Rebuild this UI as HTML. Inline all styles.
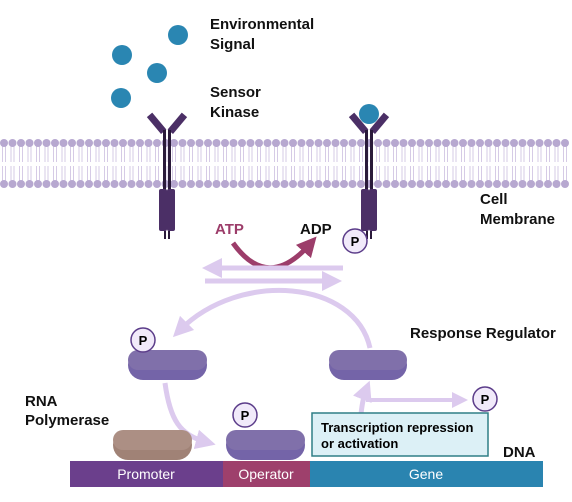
<!DOCTYPE html>
<html><head><meta charset="utf-8"><style>
html,body{margin:0;padding:0;background:#fff;}
svg{display:block;font-family:"Liberation Sans",sans-serif;}
.b{font-weight:bold;font-size:15px;fill:#111;}
</style></head><body>
<svg width="572" height="502" viewBox="0 0 572 502">
<defs>
<marker id="ah" markerWidth="4" markerHeight="4" refX="2" refY="2" orient="auto" markerUnits="strokeWidth"><path d="M0,0 L4,2 L0,4 z" fill="#dccaee"/></marker>
<marker id="ahm" markerWidth="4" markerHeight="4" refX="2" refY="2" orient="auto" markerUnits="strokeWidth"><path d="M0,0 L4,2 L0,4 z" fill="#9c3d6a"/></marker>
</defs>
<g id="mem"></g>
<g fill="#2a86b2">
<circle cx="178" cy="35" r="10"/><circle cx="122" cy="55" r="10"/><circle cx="157" cy="73" r="10"/><circle cx="121" cy="98" r="10"/>
</g>
<text class="b" x="210" y="29">Environmental</text>
<text class="b" x="210" y="49">Signal</text>
<text class="b" x="210" y="97">Sensor</text>
<text class="b" x="210" y="117">Kinase</text>
<g id="rec1" transform="translate(167,0)"></g>
<g id="rec2" transform="translate(369,0)"></g>
<circle cx="369" cy="114" r="10" fill="#2a86b2"/>
<text class="b" x="480" y="204">Cell</text>
<text class="b" x="480" y="224">Membrane</text>
<text x="215" y="234" font-size="15" font-weight="bold" fill="#9c3d6a">ATP</text>
<text class="b" x="300" y="234">ADP</text>
<path d="M233,243 Q268,292 310,244" fill="none" stroke="#9c3d6a" stroke-width="5" marker-end="url(#ahm)"/>
<g><circle cx="355" cy="241" r="12" fill="#f1eafa" stroke="#5c3d8a" stroke-width="1.5"/><text x="355" y="246" text-anchor="middle" font-size="13" font-weight="bold">P</text></g>
<line x1="343" y1="268" x2="212" y2="268" stroke="#dccaee" stroke-width="5" marker-end="url(#ah)"/>
<line x1="205" y1="281" x2="332" y2="281" stroke="#dccaee" stroke-width="5" marker-end="url(#ah)"/>
<path d="M370,348 C355,280 240,270 180,330" fill="none" stroke="#dccaee" stroke-width="5" marker-end="url(#ah)"/>
<path d="M165,383 C170,420 180,435 206,442" fill="none" stroke="#dccaee" stroke-width="5" marker-end="url(#ah)"/>
<path d="M361,414 C362,405 364,395 366,390" fill="none" stroke="#dccaee" stroke-width="5" marker-end="url(#ah)"/>
<line x1="366" y1="400" x2="460" y2="400" stroke="#dccaee" stroke-width="4" marker-end="url(#ah)"/>
<g><rect x="128" y="350" width="79" height="30" rx="15" fill="#7464a8"/><rect x="128" y="350" width="79" height="20" rx="10" fill="#8070aa"/></g>
<g><circle cx="143" cy="340" r="12" fill="#f1eafa" stroke="#5c3d8a" stroke-width="1.5"/><text x="143" y="345" text-anchor="middle" font-size="13" font-weight="bold">P</text></g>
<g><rect x="329" y="350" width="78" height="30" rx="15" fill="#7464a8"/><rect x="329" y="350" width="78" height="20" rx="10" fill="#8070aa"/></g>
<text class="b" x="410" y="338">Response Regulator</text>
<text class="b" x="25" y="406">RNA</text>
<text class="b" x="25" y="425">Polymerase</text>
<g><rect x="113" y="430" width="79" height="30" rx="15" fill="#a08276"/><rect x="113" y="430" width="79" height="20" rx="10" fill="#ac8f84"/></g>
<g><rect x="226" y="430" width="79" height="30" rx="15" fill="#7464a8"/><rect x="226" y="430" width="79" height="20" rx="10" fill="#8070aa"/></g>
<g><circle cx="245" cy="415" r="12" fill="#f1eafa" stroke="#5c3d8a" stroke-width="1.5"/><text x="245" y="420" text-anchor="middle" font-size="13" font-weight="bold">P</text></g>
<g><circle cx="485" cy="399" r="12" fill="#f1eafa" stroke="#5c3d8a" stroke-width="1.5"/><text x="485" y="404" text-anchor="middle" font-size="13" font-weight="bold">P</text></g>
<g><rect x="312" y="413" width="176" height="43" fill="#dcf0f6" stroke="#2e7f86" stroke-width="1.5"/>
<text x="321" y="432" font-size="13" font-weight="bold">Transcription repression</text><text x="321" y="448" font-size="13" font-weight="bold">or activation</text></g>
<text class="b" x="503" y="457">DNA</text>
<g font-size="14" fill="#fff" text-anchor="middle">
<rect x="70" y="461" width="153" height="26" fill="#6b3f8c"/>
<rect x="223" y="461" width="87" height="26" fill="#9e406c"/>
<rect x="310" y="461" width="233" height="26" fill="#2a84b0"/>
<text x="146" y="479">Promoter</text><text x="266" y="479">Operator</text><text x="426" y="479">Gene</text>
</g>
<script>
var NS="http://www.w3.org/2000/svg";
var mem=document.getElementById('mem');
function mk(t,a,p){var e=document.createElementNS(NS,t);for(var k in a)e.setAttribute(k,a[k]);p.appendChild(e);return e;}
for(var x=4;x<572;x+=8.5){
mk('line',{x1:x-1.5,y1:146,x2:x-1.5,y2:162,stroke:'#d6cbe6','stroke-width':1},mem);
mk('line',{x1:x+1.5,y1:146,x2:x+1.5,y2:162,stroke:'#d6cbe6','stroke-width':1},mem);
mk('line',{x1:x-1.5,y1:166,x2:x-1.5,y2:182,stroke:'#d6cbe6','stroke-width':1},mem);
mk('line',{x1:x+1.5,y1:166,x2:x+1.5,y2:182,stroke:'#d6cbe6','stroke-width':1},mem);
mk('circle',{cx:x,cy:143,r:4,fill:'#b7a8d0'},mem);
mk('circle',{cx:x,cy:184,r:4,fill:'#b7a8d0'},mem);
}
['rec1','rec2'].forEach(function(id){
var g=document.getElementById(id);
var c='#4b2f66';
mk('rect',{x:-14,y:112,width:7,height:22,fill:c,transform:'rotate(-40 -10 123)'},g);
mk('rect',{x:7,y:112,width:7,height:22,fill:c,transform:'rotate(40 10 123)'},g);
mk('rect',{x:-4,y:130,width:3,height:60,fill:'#2a1a3a'},g);
mk('rect',{x:1,y:130,width:3,height:60,fill:'#2a1a3a'},g);
mk('rect',{x:-8,y:189,width:8,height:42,rx:2,fill:c},g);
mk('rect',{x:0,y:189,width:8,height:42,rx:2,fill:c},g);
mk('rect',{x:-3,y:231,width:2,height:8,fill:'#2a1a3a'},g);
mk('rect',{x:1,y:231,width:2,height:8,fill:'#2a1a3a'},g);
});
</script>
</svg>
</body></html>
